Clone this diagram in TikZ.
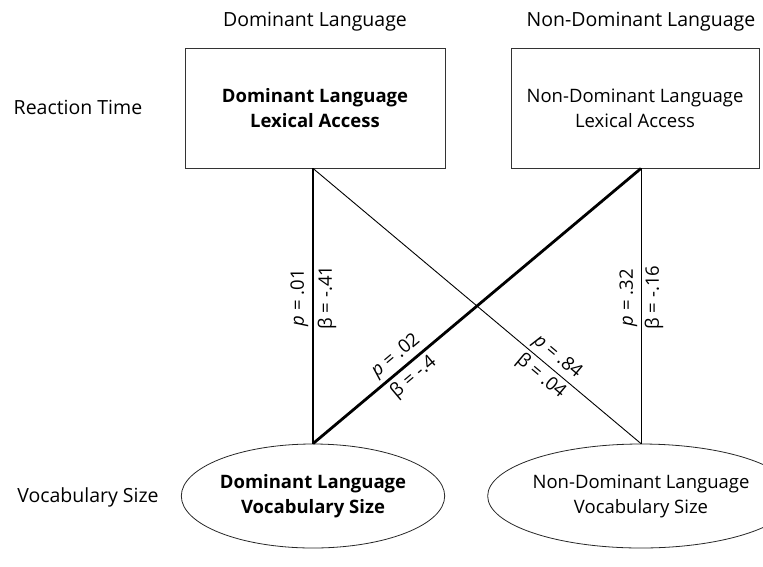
\documentclass[tikz,border=0pt]{standalone}
\usepackage{fontspec}
\setmainfont{Open Sans}
\usetikzlibrary{shapes.geometric}
\begin{document}
\begin{tikzpicture}[x=1pt,y=-1pt,
  every node/.style={font=\fontsize{18.5}{25}\selectfont, text=black},
  heading/.style={anchor=center, font=\fontsize{19.5}{24}\selectfont},
  boxnode/.style={draw=black!80, line width=0.8pt, minimum height=120pt, inner sep=0pt, align=center},
  ovalnode/.style={ellipse, draw=black!85, line width=0.8pt, minimum width=260pt, minimum height=104pt, inner sep=0pt, align=center},
  thinlink/.style={line width=0.9pt},
  thicklink/.style={line width=2.8pt},
  stat/.style={sloped, font=\fontsize{18.5}{20}\selectfont, inner sep=3.2pt}
]
\useasboundingbox (0,0) rectangle (763,566);

% column headings and row headings
\node[heading] (hd) at (315,22) {Dominant Language};
\node[heading] (hn) at (641,22) {Non-Dominant Language};
\node[heading] (hrt) at (78,107) {Reaction Time};
\node[heading] (hvs) at (88,497) {Vocabulary Size};

% lexical access boxes
\node[boxnode, minimum width=260pt] (dla) at (315,108) {\textbf{Dominant Language}\\\textbf{Lexical Access}};
\node[boxnode, minimum width=248pt] (nla) at (635,108) {Non-Dominant Language\\Lexical Access};

% vocabulary size ovals
\node[ovalnode] (dvs) at (313,496) {\textbf{Dominant Language}\\\textbf{Vocabulary Size}};
\node[ovalnode] (nvs) at (641,496) {Non-Dominant Language\\Vocabulary Size};

% paths
\draw[thicklink] (dvs.north) -- node[stat, pos=0.53, above] {\textit{p} = .01} node[stat, pos=0.53, below] {β = -.41} (dla.south -| dvs.north);
\draw[thinlink] (nvs.north) -- node[stat, pos=0.53, above] {\textit{p} = .32} node[stat, pos=0.53, below] {β = -.16} (nla.south -| nvs.north);
\draw[thicklink] (dvs.north) -- node[stat, pos=0.28, above] {\textit{p} = .02} node[stat, pos=0.28, below] {β = -.4} (nla.south -| nvs.north);
\draw[thinlink] (dla.south -| dvs.north) -- node[stat, pos=0.72, above] {\textit{p} = .84} node[stat, pos=0.72, below] {β = .04} (nvs.north);
\end{tikzpicture}
\end{document}
